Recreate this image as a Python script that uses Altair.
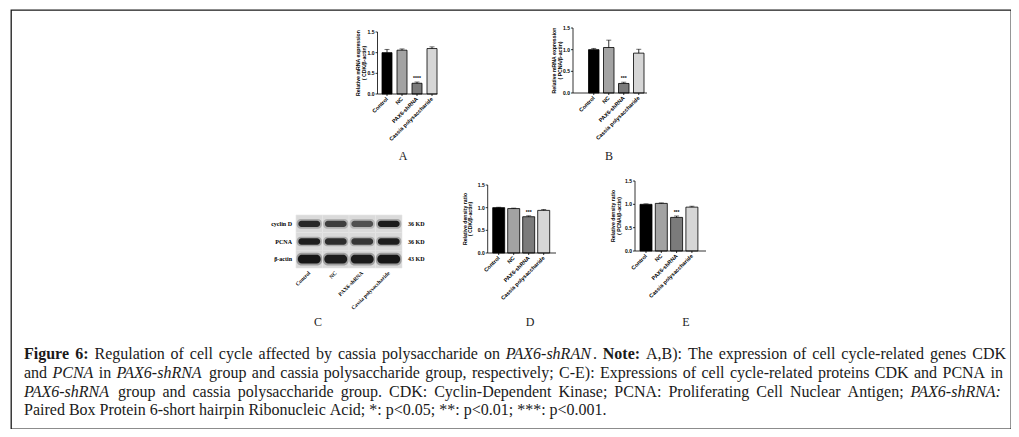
import altair as alt
import pandas as pd

# ---------------- data ----------------
groups = ["Control", "NC", "PAX6-shRNA", "Cassia polysaccharide"]
bar_colors = ["#000000", "#a3a3a3", "#7b7b7b", "#d6d6d6"]

a_values = [1.00, 1.06, 0.26, 1.10]
a_errors = [0.08, 0.03, 0.03, 0.04]
a_stars = ["", "", "****", ""]

b_values = [1.00, 1.05, 0.22, 0.92]
b_errors = [0.03, 0.17, 0.03, 0.09]
b_stars = ["", "", "***", ""]

d_values = [1.00, 0.98, 0.80, 0.94]
d_errors = [0.01, 0.01, 0.02, 0.02]
d_stars = ["", "", "***", ""]

e_values = [1.00, 1.02, 0.72, 0.94]
e_errors = [0.01, 0.01, 0.03, 0.02]
e_stars = ["", "", "***", ""]

y_ticks = [0.0, 0.5, 1.0, 1.5]
y_tick_labels = ["0.0", "0.5", "1.0", "1.5"]

blot_rows = ["cyclin D", "PCNA", "β-actin"]
blot_sizes = ["36 KD", "36 KD", "43 KD"]
cyclin_band = [0.85, 0.72, 0.62, 0.92]
pcna_band = [0.90, 0.82, 0.76, 0.90]
actin_band = [0.95, 0.90, 0.92, 0.95]

panel_letters = ["A", "B", "C", "D", "E"]

# caption: (line, style, text); a leading space means a word gap before it
caption_segments = [
    (0, "bold", "Figure 6:"),
    (0, "normal", " Regulation of cell cycle affected by cassia polysaccharide on"),
    (0, "italic", " PAX6-shRAN"),
    (0, "normal", "."),
    (0, "bold", " Note:"),
    (0, "normal", " A,B): The expression of cell cycle-related genes CDK"),
    (1, "normal", "and"),
    (1, "italic", " PCNA"),
    (1, "normal", " in"),
    (1, "italic", " PAX6-shRNA"),
    (1, "normal", " group and cassia polysaccharide group, respectively; C-E): Expressions of cell cycle-related proteins CDK and PCNA in"),
    (2, "italic", "PAX6-shRNA"),
    (2, "normal", " group and cassia polysaccharide group. CDK: Cyclin-Dependent Kinase; PCNA: Proliferating Cell Nuclear Antigen;"),
    (2, "italic", " PAX6-shRNA:"),
    (3, "normal", "Paired Box Protein 6-short hairpin Ribonucleic Acid; *: p<0.05; **: p<0.01; ***: p<0.001."),
]

# ---------------- layout (page pixels) ----------------
OX, OY = 11, 10          # top-left corner of the frame on the page
W, H = 1000, 419         # frame size
caption_left = 24
caption_right = [1006, 1003, 1003, None]   # None = not justified
caption_line_y = [354, 373, 392, 410]
caption_size = 16
letter_x = [403, 609, 318, 530, 686]
letter_y = [156, 156, 322, 322, 322]

SANS = "Liberation Sans"
SERIF = "Liberation Serif"

# Times / Liberation Serif advance widths (per 1000 em) used to lay out the justified caption
_TW = {
    "a": 444, "b": 500, "c": 444, "d": 500, "e": 444, "f": 333, "g": 500, "h": 500, "i": 278,
    "j": 278, "k": 500, "l": 278, "m": 778, "n": 500, "o": 500, "p": 500, "q": 500, "r": 333,
    "s": 389, "t": 278, "u": 500, "v": 500, "w": 722, "x": 500, "y": 500, "z": 444,
    "A": 722, "B": 667, "C": 667, "D": 722, "E": 611, "F": 556, "G": 722, "H": 722, "I": 333,
    "J": 389, "K": 722, "L": 611, "M": 889, "N": 722, "O": 722, "P": 556, "Q": 722, "R": 667,
    "S": 556, "T": 611, "U": 722, "V": 722, "W": 944, "X": 722, "Y": 722, "Z": 611,
    ".": 250, ",": 250, ":": 278, ";": 278, "(": 333, ")": 333, "-": 333, "*": 500, "<": 564,
    "/": 278, " ": 250,
}
_TW_ITALIC = dict(_TW, **{
    "a": 500, "f": 278, "k": 444, "m": 722, "r": 389, "A": 611, "B": 611, "C": 667, "N": 667,
    "P": 611, "R": 611, "S": 500, "X": 611, ":": 333,
})
_TW_BOLD = dict(_TW, **{
    "a": 500, "b": 556, "d": 556, "h": 556, "m": 833, "n": 556, "r": 444, "t": 333, "u": 556,
    "F": 611, "N": 722, ":": 333,
})
_TABLES = {"normal": _TW, "italic": _TW_ITALIC, "bold": _TW_BOLD}


def text_width(s, style):
    table = _TABLES[style]
    return sum(table.get(ch, 500) for ch in s) * caption_size / 1000.0


def layout_caption():
    lines = {}
    for line, style, text in caption_segments:
        parts = text.split(" ")
        for k, p in enumerate(parts):
            if p == "":
                continue
            lines.setdefault(line, []).append([p, style, k > 0])
    rows = []
    for line, toks in lines.items():
        toks[0][2] = False
        natural = sum(text_width(t, s) for t, s, g in toks)
        ngaps = sum(1 for t in toks if t[2])
        space = caption_size * 0.25
        target = caption_right[line]
        extra = 0.0
        if target is not None and ngaps > 0:
            extra = (target - caption_left - natural - ngaps * space) / ngaps
        x = caption_left
        for t, s, g in toks:
            if g:
                x += space + extra
            rows.append({"text": t, "style": s, "px": x - OX, "py": caption_line_y[line] - OY})
            x += text_width(t, s)
    return pd.DataFrame(rows)


def bar_panel(values, errors, stars, title, axis_x, axis_end, first_left, step, bw,
              y_zero, y_top, title_dx):
    df = pd.DataFrame({"group": groups, "value": values, "error": errors, "star": stars})
    df["top"] = df["value"] + df["error"]
    n = len(groups)
    pi = 1 - bw / step
    span = axis_end - axis_x
    gaps = span - step * (n - pi)
    po = max(gaps / (2 * step), 0)
    align = min(max((first_left - axis_x) / gaps, 0), 1) if gaps > 0 else 0.5
    xscale = alt.Scale(range=[axis_x - OX, axis_end - OX], paddingInner=pi,
                       paddingOuter=po, align=align)
    yscale = alt.Scale(domain=[0, 1.5], range=[y_zero - OY, y_top - OY], nice=False, zero=False)
    x_no = alt.X("group:N", sort=groups, scale=xscale, axis=None)
    ax = axis_x - OX
    y0 = y_zero - OY
    line_w = 0.8

    base = alt.Chart(df)
    bars = base.mark_bar(stroke="#000", strokeWidth=line_w).encode(
        x=x_no, y=alt.Y("value:Q", scale=yscale, axis=None),
        color=alt.Color("group:N", sort=groups, scale=alt.Scale(domain=groups, range=bar_colors), legend=None))
    err = base.mark_rule(color="#000", strokeWidth=line_w).encode(
        x=x_no, y=alt.Y("value:Q", scale=yscale, axis=None), y2="top:Q")
    cap = base.mark_tick(color="#000", thickness=line_w, size=5, orient="horizontal").encode(
        x=x_no, y=alt.Y("top:Q", scale=yscale, axis=None))
    star = base.transform_filter("datum.star != ''").mark_text(
        font=SANS, fontWeight="bold", fontSize=5, baseline="bottom", dy=-1, color="#000").encode(
        x=x_no, y=alt.Y("top:Q", scale=yscale, axis=None), text="star:N")

    # axes drawn from the panel's own scales
    span_df = pd.DataFrame({"lo": [0.0], "hi": [1.5], "mid": [0.75],
                            "t1": [title[0]], "t2": [title[1]]})
    tick_df = pd.DataFrame({"tick": y_ticks, "label": y_tick_labels})
    y_line = alt.Chart(span_df).mark_rule(color="#000", strokeWidth=line_w).encode(
        x=alt.value(ax), y=alt.Y("lo:Q", scale=yscale, axis=None), y2="hi:Q")
    x_line = alt.Chart(span_df).mark_rule(color="#000", strokeWidth=line_w).encode(
        x=alt.value(ax), x2=alt.value(axis_end - OX), y=alt.Y("lo:Q", scale=yscale, axis=None))
    y_tk = alt.Chart(tick_df).mark_rule(color="#000", strokeWidth=line_w).encode(
        x=alt.value(ax - 2), x2=alt.value(ax), y=alt.Y("tick:Q", scale=yscale, axis=None))
    y_lb = alt.Chart(tick_df).mark_text(
        align="right", baseline="middle", font=SANS, fontWeight="bold", fontSize=5, color="#000").encode(
        x=alt.value(ax - 3), y=alt.Y("tick:Q", scale=yscale, axis=None), text="label:N")
    t1 = alt.Chart(span_df).mark_text(
        angle=270, align="center", baseline="middle", font=SANS, fontWeight="bold", fontSize=5.2, color="#000").encode(
        x=alt.value(ax + title_dx[0]), y=alt.Y("mid:Q", scale=yscale, axis=None), text="t1:N")
    t2 = alt.Chart(span_df).mark_text(
        angle=270, align="center", baseline="middle", font=SANS, fontWeight="bold", fontSize=5.2, color="#000").encode(
        x=alt.value(ax + title_dx[1]), y=alt.Y("mid:Q", scale=yscale, axis=None), text="t2:N")
    x_tk = base.mark_rule(color="#000", strokeWidth=line_w).encode(
        x=x_no, y=alt.value(y0), y2=alt.value(y0 + 2))
    x_lb = base.mark_text(
        angle=315, align="right", baseline="middle", font=SANS, fontWeight="bold", fontSize=5.5, color="#000").encode(
        x=x_no, y=alt.value(y0 + 4), text="group:N")
    return alt.layer(bars, err, cap, star, y_line, x_line, y_tk, y_lb, t1, t2, x_tk, x_lb)


panel_a = bar_panel(a_values, a_errors, a_stars, ["Relative mRNA expression", "( CDK/β-actin)"],
                    377.5, 437.5, 382, 15, 10, 94, 32, (-19.5, -13.5))
panel_b = bar_panel(b_values, b_errors, b_stars, ["Relative mRNA expression", "( PCNA/β-actin)"],
                    573, 647, 588.5, 15, 10.5, 93, 28, (-19, -13))
panel_d = bar_panel(d_values, d_errors, d_stars, ["Relative density ratio", "( CDK/β-actin)"],
                    487.7, 556, 492.7, 15, 12, 253, 185, (-23, -17.5))
panel_e = bar_panel(e_values, e_errors, e_stars, ["Relative density ratio", "( PCNA/β-actin)"],
                    635, 706, 640, 15.3, 12, 251, 181, (-22, -16.5))

# ---------------- western blot (panel C) ----------------
blot_df = pd.DataFrame([
    {"row": r, "lane": g, "level": lv}
    for r, levels in zip(blot_rows, [cyclin_band, pcna_band, actin_band])
    for g, lv in zip(groups, levels)
])
lane_scale = alt.Scale(range=[296 - OX, 402 - OX], paddingInner=0, paddingOuter=0)
row_scale = alt.Scale(range=[215 - OY, 268 - OY], paddingInner=0, paddingOuter=0)
lane_x = alt.X("lane:N", sort=groups, scale=lane_scale, axis=None)
row_y = alt.Y("row:N", sort=blot_rows, scale=row_scale, axis=None)

blot_bg = alt.Chart(blot_df).mark_rect(fill="#dadada", stroke="#e6e6e6", strokeWidth=0.6).encode(x=lane_x, y=row_y)
thin = alt.datum.row != "β-actin"
thick = alt.datum.row == "β-actin"
halo_thin = alt.Chart(blot_df).transform_filter(thin).mark_rect(
    width={"band": 0.95}, height={"band": 0.55}, cornerRadius=4, fill="#3a3a3a").encode(
    x=lane_x, y=row_y, opacity=alt.Opacity("level:Q", scale=alt.Scale(domain=[0, 1], range=[0, 0.35]), legend=None))
core_thin = alt.Chart(blot_df).transform_filter(thin).mark_rect(
    width={"band": 0.82}, height={"band": 0.36}, cornerRadius=3, fill="#101010").encode(
    x=lane_x, y=row_y, opacity=alt.Opacity("level:Q", scale=None))
halo_thick = alt.Chart(blot_df).transform_filter(thick).mark_rect(
    width={"band": 0.97}, height={"band": 0.72}, cornerRadius=5, fill="#3a3a3a").encode(
    x=lane_x, y=row_y, opacity=alt.Opacity("level:Q", scale=alt.Scale(domain=[0, 1], range=[0, 0.4]), legend=None))
core_thick = alt.Chart(blot_df).transform_filter(thick).mark_rect(
    width={"band": 0.86}, height={"band": 0.5}, cornerRadius=4, fill="#101010").encode(
    x=lane_x, y=row_y, opacity=alt.Opacity("level:Q", scale=None))
row_df = pd.DataFrame({"row": blot_rows, "size": blot_sizes})
row_labels = alt.Chart(row_df).mark_text(
    align="right", baseline="middle", font=SERIF, fontWeight="bold", fontSize=6, color="#000").encode(
    x=alt.value(292 - OX), y=row_y, text="row:N")
size_labels = alt.Chart(row_df).mark_text(
    align="left", baseline="middle", font=SERIF, fontWeight="bold", fontSize=6, color="#000").encode(
    x=alt.value(408 - OX), y=row_y, text="size:N")
lane_df = pd.DataFrame({"lane": groups})
lane_labels = alt.Chart(lane_df).mark_text(
    angle=315, align="right", baseline="middle", font=SERIF, fontWeight="bold", fontSize=5.5, color="#000").encode(
    x=lane_x, y=alt.value(272 - OY), text="lane:N")
panel_c = alt.layer(blot_bg, halo_thin, core_thin, halo_thick, core_thick,
                    row_labels, size_labels, lane_labels).resolve_scale(opacity="independent")

# ---------------- panel letters ----------------
letters_df = pd.DataFrame({"letter": panel_letters,
                           "px": [v - OX for v in letter_x],
                           "py": [v - OY for v in letter_y]})
letters = alt.Chart(letters_df).mark_text(font=SERIF, fontSize=12, color="#222", baseline="middle").encode(
    x=alt.X("px:Q", scale=None), y=alt.Y("py:Q", scale=None), text="letter:N")

# ---------------- caption ----------------
cap_df = layout_caption()


def caption_layer(style, weight, font_style):
    return alt.Chart(cap_df).transform_filter(alt.datum.style == style).mark_text(
        align="left", baseline="middle", font=SERIF, fontSize=caption_size, fontWeight=weight,
        fontStyle=font_style, color="#1a1a1a").encode(
        x=alt.X("px:Q", scale=None), y=alt.Y("py:Q", scale=None), text="text:N")


caption = alt.layer(caption_layer("normal", "normal", "normal"),
                    caption_layer("bold", "bold", "normal"),
                    caption_layer("italic", "normal", "italic"))

chart = alt.layer(panel_a, panel_b, panel_c, panel_d, panel_e, letters, caption).resolve_scale(
    x="independent", y="independent").properties(
    width=W, height=H,
    padding={"left": 3, "top": 2, "right": 0, "bottom": 0},
    autosize=alt.AutoSizeParams(type="none"),
    background="#ffffff",
).configure_view(stroke="#1a1a1a", strokeWidth=1.3)

chart.save("out.html", embed_options={"renderer": "svg", "actions": False})
